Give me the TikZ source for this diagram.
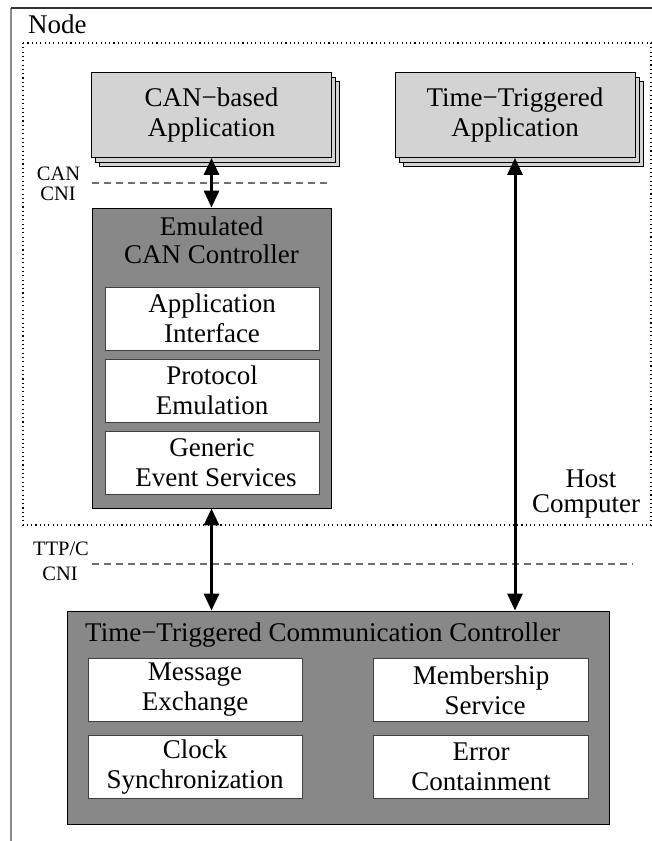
\documentclass[tikz,border=0pt]{standalone}
\usepackage{fontspec}
\setmainfont{Liberation Serif}
\usetikzlibrary{arrows.meta,shadows}
\definecolor{lightbox}{HTML}{D3D3D3}
\definecolor{darkbox}{HTML}{888888}
\definecolor{cniline}{HTML}{707070}
\definecolor{framegray}{HTML}{8A8A8A}
\definecolor{frametop}{HTML}{333333}

\begin{document}
\begin{tikzpicture}[x=1pt,y=-1pt,
  big/.style={font=\fontsize{27}{30}\selectfont},
  small/.style={font=\fontsize{20.5}{20}\selectfont},
  appbox/.style={draw=black, line width=0.9pt, fill=lightbox, inner sep=0pt,
    align=center, big, minimum width=240pt, minimum height=85pt,
    copy shadow={shadow xshift=8pt, shadow yshift=-9pt, fill=lightbox, draw=black, line width=0.7pt},
    copy shadow={shadow xshift=4pt, shadow yshift=-4.5pt, fill=lightbox, draw=black, line width=0.7pt}},
  ctrlbox/.style={draw=black, line width=0.9pt, fill=darkbox, inner sep=0pt},
  svcbox/.style={draw=black!75, line width=0.8pt, fill=white, inner sep=0pt,
    align=center, big, minimum width=214pt, minimum height=63pt},
  label/.style={inner sep=0pt, anchor=base},
  cni/.style={draw=cniline, line width=1.2pt, dash pattern=on 7pt off 5pt},
  hostarea/.style={draw=black, line width=1.1pt, dash pattern=on 1.1pt off 3.2pt},
  link/.style={line width=3pt,
    {Triangle[width=15pt,length=17pt]}-{Triangle[width=15pt,length=17pt]}}
]
  \useasboundingbox (0,0) rectangle (652,841);

  % outer frame of the node
  \draw[framegray, line width=1.5pt] (11,841) -- (11,8);
  \draw[frametop, line width=1.5pt] (11,8) -- (652,8);
  \node[label, anchor=base west, big] (nodelbl) at (28,33) {Node};

  % host computer area
  \draw[hostarea] (23,43) rectangle (651,525);
  \node[label, big] (host1) at (591,487) {Host};
  \node[label, big] (host2) at (586,512) {Computer};

  % applications
  \node[appbox] (canapp) at (211.5,115) {CAN−based\\Application};
  \node[appbox] (ttapp) at (515,115) {Time−Triggered\\Application};

  % emulated CAN controller
  \node[ctrlbox, minimum width=239pt, minimum height=300pt] (emu) at (211.5,358) {};
  \node[label, big] (emut1) at (211.5,235) {Emulated};
  \node[label, big] (emut2) at (211.5,263) {CAN Controller};
  \node[svcbox] (appif) at (212,318.5) {Application\\Interface};
  \node[svcbox] (proto) at (212,390.5) {Protocol\\Emulation};
  \node[svcbox] (generic) at (212,462.5) {Generic\\\hspace*{8pt}Event Services};

  % time-triggered communication controller
  \node[ctrlbox, minimum width=542pt, minimum height=213pt] (ttc) at (338,717.5) {};
  \node[label, anchor=base west, big] (ttct) at (85,641) {Time−Triggered Communication Controller};
  \node[svcbox] (msg) at (195,690) {Message\\Exchange};
  \node[svcbox] (clock) at (195,767) {Clock\\Synchronization};
  \node[svcbox, minimum width=215pt] (member) at (481,690) {Membership\\\hspace*{8pt}Service};
  \node[svcbox, minimum width=215pt] (error) at (481,767) {Error\\Containment};

  % communication network interfaces
  \coordinate (canL) at (92,183);
  \coordinate (canR) at (327,183);
  \draw[cni] (canL) -- (canR);
  \node[label, small] (cnia) at (58.5,180) {CAN};
  \node[label, small] (cnib) at (58,200) {CNI};

  \coordinate (ttpL) at (92,564);
  \coordinate (ttpR) at (633,564);
  \draw[cni] (ttpL) -- (ttpR);
  \node[label, small] (ttpa) at (61,555) {TTP/C};
  \node[label, small] (ttpb) at (60,580) {CNI};

  % connections
  \draw[link] (canapp.south) -- (emu.north);
  \draw[link] (emu.south) -- (emu.south |- ttc.north);
  \draw[link] (ttapp.south) -- (ttapp.south |- ttc.north);
\end{tikzpicture}
\end{document}
